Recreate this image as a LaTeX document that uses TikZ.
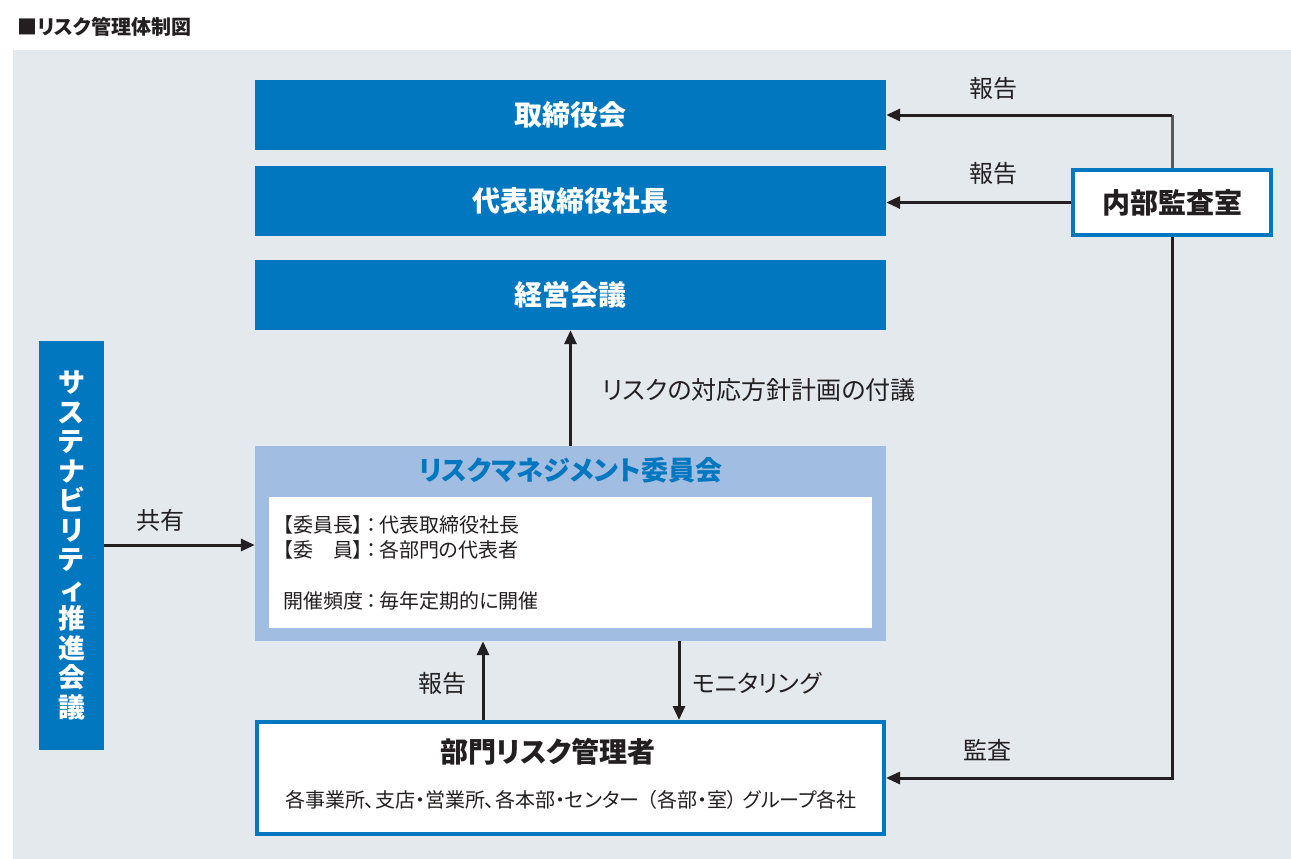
\documentclass[tikz,border=0pt]{standalone}
\usepackage{fontspec}
\setmainfont{Noto Sans CJK JP}[RawFeature=+palt]
\usetikzlibrary{arrows.meta}
\definecolor{corpblue}{RGB}{0,119,190}
\definecolor{paleblue}{RGB}{162,189,226}
\definecolor{panelgray}{RGB}{228,233,238}
\definecolor{inkdark}{RGB}{35,31,32}
\definecolor{linegray}{RGB}{90,90,90}

\begin{document}
\begin{tikzpicture}[
  x=1pt, y=-1pt,
  bluebox/.style={fill=corpblue, text=white, minimum width=631pt, minimum height=70pt,
                  font=\bfseries\fontsize{28}{32}\selectfont, inner sep=0pt},
  framebox/.style={draw=corpblue, line width=4pt, fill=white, inner sep=0pt},
  lbl/.style={text=inkdark, font=\fontsize{24}{28}\selectfont, inner sep=0pt},
  note/.style={text=inkdark, font=\fontsize{20}{23}\selectfont, inner sep=0pt, anchor=west},
  arr/.style={draw=inkdark, line width=3pt, -{Triangle[length=14pt,width=12pt]}},
]
  \useasboundingbox (0,0) rectangle (1291,859);
  \fill[panelgray] (13,50) rectangle (1291,859);

  % Title
  \node[anchor=west, text=inkdark, font=\bfseries\fontsize{20}{22}\selectfont, inner sep=0pt]
    (title) at (17,27) {■リスク管理体制図};

  % Top management column
  \node[bluebox] (board) at (570.5,115) {取締役会};
  \node[bluebox] (ceo)   at (570.5,201) {代表取締役社長};
  \node[bluebox] (mgmt)  at (570.5,295) {経営会議};

  % Internal audit
  \node[framebox, minimum width=198pt, minimum height=65pt,
        font=\bfseries\fontsize{28}{32}\selectfont, text=inkdark]
    (audit) at (1172,202.5) {内部監査室};

  % Sustainability council (vertical text)
  \node[bluebox, minimum width=65pt, minimum height=409pt, align=center,
        font=\bfseries\fontsize{27}{29.5}\selectfont]
    (sus) at (71.5,545.5) {サ\\ス\\テ\\ナ\\ビ\\リ\\テ\\ィ\\推\\進\\会\\議};

  % Risk management committee
  \node[fill=paleblue, minimum width=631pt, minimum height=195pt, inner sep=0pt]
    (rmc) at (570.5,543.5) {};
  \node[text=corpblue, font=\bfseries\fontsize{27}{30}\selectfont, inner sep=0pt]
    (rmctitle) at (570.5,470) {リスクマネジメント委員会};
  \node[fill=white, minimum width=603pt, minimum height=131pt, inner sep=0pt]
    (rmcbody) at (570.5,562.5) {};
  \node[note] (chair)   at (283,525) {【委員長】\hspace{3pt}：\hspace{3pt}代表取締役社長};
  \node[note] (members) at (283,550) {【委　員】\hspace{3pt}：\hspace{3pt}各部門の代表者};
  \node[note] (freq)    at (283,601) {開催頻度\hspace{3pt}：\hspace{3pt}毎年定期的に開催};

  % Department risk managers
  \node[framebox, minimum width=627pt, minimum height=112pt] (dept) at (570.5,778) {};
  \node[text=inkdark, font=\bfseries\fontsize{28}{31}\selectfont, inner sep=0pt]
    (depttitle) at (548,752) {部門リスク管理者};
  \node[text=inkdark, font=\fontsize{20}{23}\selectfont, inner sep=0pt]
    (deptunits) at (571,800)
    {各事業所、支店・営業所、各本部・センター\hspace{8pt}（各部・室）\hspace{6pt}グループ各社};

  % Connectors
  \draw[arr] (rmc.north) -- (mgmt.south);
  \draw[arr] (sus.east |- 0,545) -- (rmc.west |- 0,545);
  \draw[arr] (dept.north -| 483,0) -- (rmc.south -| 483,0);
  \draw[arr] (rmc.south -| 679,0) -- (dept.north -| 679,0);

  \coordinate (auditup) at (audit.north |- board.east);
  \coordinate (auditdown) at (audit.south |- dept.east);
  \draw[linegray, line width=3pt] (audit.north) -- (auditup);
  \draw[arr] (auditup) -- (board.east);
  \draw[arr] (audit.west) -- (audit.west -| ceo.east);
  \draw[arr] (audit.south) -- (auditdown) -- (dept.east);

  % Labels
  \node[lbl] (lreport1) at (993,88)  {報告};
  \node[lbl] (lreport2) at (993,173) {報告};
  \node[lbl] (laudit)   at (987,750) {監査};
  \node[lbl] (lshare)   at (160,520) {共有};
  \node[lbl] (lreport3) at (442,683) {報告};
  \node[lbl] (lmonitor) at (757,683) {モニタリング};
  \node[lbl, font=\fontsize{25}{28}\selectfont] (lproposal) at (759,390) {リスクの対応方針計画の付議};
\end{tikzpicture}
\end{document}
